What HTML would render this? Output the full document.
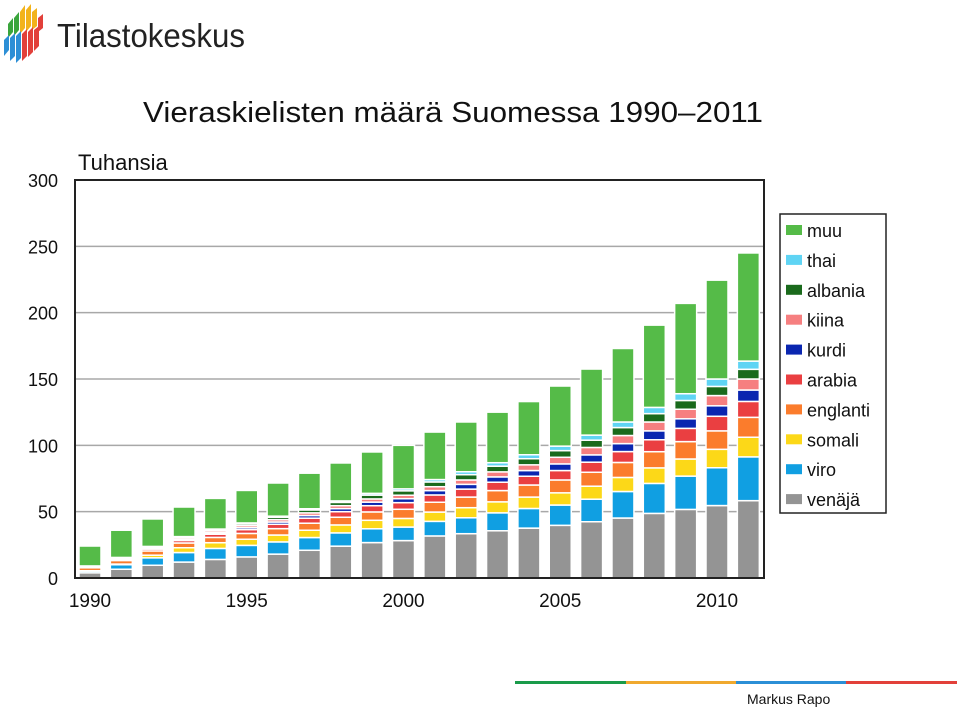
<!DOCTYPE html>
<html><head><meta charset="utf-8">
<style>
body{margin:0;background:#fff;}
svg{display:block;font-family:"Liberation Sans",sans-serif;}
</style></head>
<body>
<svg id="chart" width="960" height="708" viewBox="0 0 960 708">
  <g>
    <g>
      <path d="M8 24 L13 18 L13 32 L8 38Z" fill="#3aa53c"/>
      <path d="M14 18 L19 12 L19 30 L14 36Z" fill="#3aa53c"/>
      <path d="M20 12 L25 5 L25 28 L20 34Z" fill="#f2b31b"/>
      <path d="M26 10 L31 4 L31 26 L26 32Z" fill="#f2b31b"/>
      <path d="M32 12 L37 8 L37 26 L32 30Z" fill="#f2b31b"/>
      <path d="M38 18 L43 14 L43 28 L38 32Z" fill="#e2403a"/>
      <path d="M4 40 L9 35 L9 50 L4 56Z" fill="#2d8fd6"/>
      <path d="M10 38 L15 33 L15 56 L10 61Z" fill="#2d8fd6"/>
      <path d="M16 36 L21 31 L21 58 L16 63Z" fill="#2d8fd6"/>
      <path d="M22 34 L27 29 L27 56 L22 61Z" fill="#e2403a"/>
      <path d="M28 32 L33 27 L33 52 L28 57Z" fill="#e2403a"/>
      <path d="M34 30 L39 26 L39 46 L34 51Z" fill="#e2403a"/>
    </g>
    <text x="57" y="47" font-size="33" fill="#222" textLength="188" lengthAdjust="spacingAndGlyphs">Tilastokeskus</text>
  </g>
  <text x="143" y="122" font-size="29" fill="#111" textLength="620" lengthAdjust="spacingAndGlyphs">Vieraskielisten määrä Suomessa 1990‒2011</text>
  <text x="78" y="170" font-size="22" fill="#111">Tuhansia</text>
  <g id="grid"></g>
  <g id="bars"></g>
  <g id="yticks"></g>
  <g id="xticks"></g>
  <rect x="75" y="180" width="689" height="398" fill="none" stroke="#222" stroke-width="2"/>
  <g id="legend">
    <rect x="780" y="214" width="106" height="299" fill="#fff" stroke="#222" stroke-width="1.5"/>
  </g>
  <g>
    <rect x="515" y="681" width="111" height="3" fill="#1a9b4a"/>
    <rect x="626" y="681" width="110" height="3" fill="#f0a92e"/>
    <rect x="736" y="681" width="110" height="3" fill="#2b8fd6"/>
    <rect x="846" y="681" width="111" height="3" fill="#e2403a"/>
  </g>
  <text x="747" y="704" font-size="14" fill="#111">Markus Rapo</text>
</svg>
<script>
const years = [1990,1991,1992,1993,1994,1995,1996,1997,1998,1999,2000,2001,2002,2003,2004,2005,2006,2007,2008,2009,2010,2011];
const venaja   = [3.9,6.6,9.6,12,14,15.9,18,20.9,24,26.7,28.2,31.7,33.4,35.6,37.6,39.7,42.4,45.2,48.7,51.7,54.6,58.3];
const viro     = [1.5,3.4,5.6,7.2,8.3,8.7,9.2,9.6,10,10.4,10.2,11,12,13.5,14.8,15.3,17,20,22.6,25.1,28.5,33];
const somali   = [0.1,0.5,2,3.6,4.3,4.6,5.2,5.5,6,6.4,6.5,7,7.6,8.3,8.6,9.2,9.8,10.6,11.7,12.9,13.9,14.8];
const englanti = [2.2,2.7,3.2,3.6,4,4.4,4.8,5.3,5.8,6.3,6.9,7.4,8,8.5,9.1,9.7,10.5,11.3,12.2,13.1,13.9,15];
const arabia   = [0.7,1,1.4,1.9,2.4,2.9,3.3,3.8,4.2,4.7,5,5.5,6,6.3,6.6,7.1,7.6,8.2,9,10,11,12];
const kurdi    = [0,0.2,0.5,0.8,1.1,1.4,1.7,2,2.3,2.7,3,3.3,3.6,4,4.3,5,5.5,6,6.7,7.2,7.9,8.6];
const kiina    = [0.5,0.8,1,1.2,1.4,1.6,1.8,2,2.2,2.4,2.6,2.9,3.3,3.8,4.3,5,5.6,6.1,6.7,7.2,7.7,8.3];
const albania  = [0,0,0.1,0.4,0.8,1.3,1.8,2.2,2.5,2.9,3.3,3.6,4,4.3,4.6,5,5.5,6,6.3,6.6,6.9,7.3];
const thai     = [0.2,0.3,0.4,0.5,0.6,0.7,0.8,0.9,1.1,1.3,1.5,1.8,2.2,2.6,3,3.4,3.8,4.2,4.7,5.1,5.6,6.2];
const muu      = [15,20.5,20.7,22.3,23.1,24.5,25,26.8,28.6,31.2,32.8,35.8,37.5,38.1,40.1,45.3,49.8,55.4,62,68.1,74.5,81.5];
const yTicks = [0,50,100,150,200,250,300];
const xTickLabels = [1990,1995,2000,2005,2010];

const seriesNames = ['venäjä','viro','somali','englanti','arabia','kurdi','kiina','albania','thai','muu'];
const seriesData = [venaja,viro,somali,englanti,arabia,kurdi,kiina,albania,thai,muu];
const seriesColors = ['#949494','#109fe2','#fcd818','#fb7c2c','#ea3f41','#0a26b0','#f67f80','#1a6a1c','#5fd4f4','#55bb48'];

const NS='http://www.w3.org/2000/svg';
const X0=75, X1=764, Y0=578, Y1=180;
const y = v => Y0 - (v/300)*(Y0-Y1);
const xc = yr => 90 + (yr-1990)*31.35;
const BW = 22;
function mk(tag, attrs, parent){const e=document.createElementNS(NS,tag);for(const k in attrs)e.setAttribute(k,attrs[k]);parent.appendChild(e);return e;}

const grid=document.getElementById('grid'), yt=document.getElementById('yticks');
yTicks.forEach(t=>{
  if(t>0&&t<300){const l=mk('line',{x1:X0,x2:X1,y1:y(t),y2:y(t),stroke:'#a8a8a8','stroke-width':1.5},grid);
    
    }
  const tx=mk('text',{x:58,y:y(t)+7,'font-size':18,'text-anchor':'end',fill:'#111'},yt);
  tx.textContent=t;
  
  
});
const xt=document.getElementById('xticks');
xTickLabels.forEach(t=>{
  const tx=mk('text',{x:xc(t),y:607,'font-size':19,'text-anchor':'middle',fill:'#111'},xt);
  tx.textContent=t;
  
  
});
const bars=document.getElementById('bars');
years.forEach((yr,i)=>{
  let acc=0;
  const g=mk('g',{},bars);
  
  
  seriesData.forEach((s,j)=>{
    const v=s[i]; if(v<=0) return;
    const top=y(acc+v), bot=y(acc);
    const r=mk('rect',{x:xc(yr)-BW/2,y:top,width:BW,height:Math.max(bot-top,0.5),fill:seriesColors[j],stroke:'#fff','stroke-width':1.5},g);
    
    
    acc+=v;
  });
});
const lg=document.getElementById('legend');
for(let k=0;k<10;k++){
  const j=9-k, cy=230+k*29.9;
  const sw=mk('rect',{x:786,y:cy-5,width:16,height:10,fill:seriesColors[j]},lg);
  
  
  const tx=mk('text',{x:807,y:cy+7,'font-size':18,fill:'#111'},lg);
  tx.textContent=seriesNames[j];
  
  
}
</script>
</body></html>
